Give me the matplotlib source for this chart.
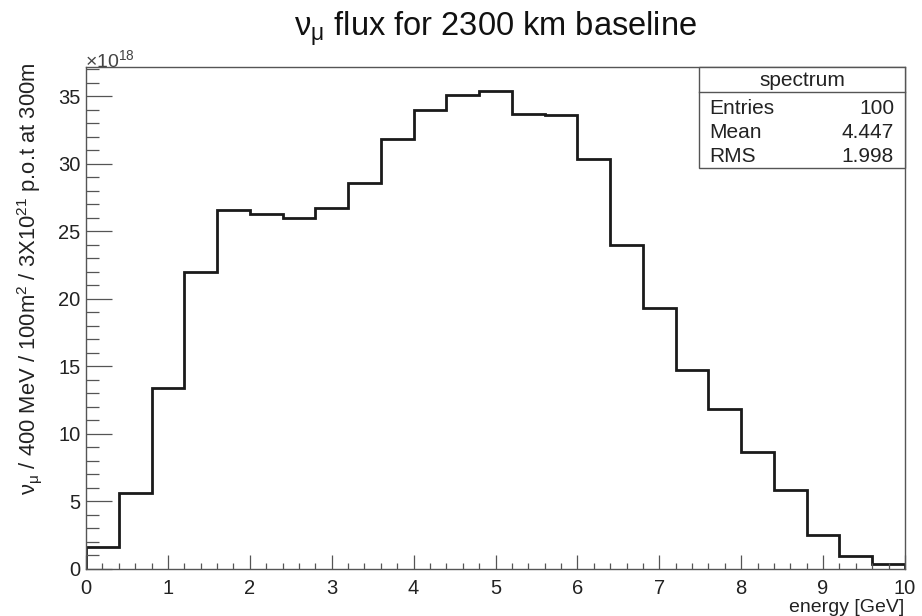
import matplotlib
matplotlib.use("Agg")
import matplotlib.pyplot as plt
import numpy as np
from matplotlib.ticker import MultipleLocator
from matplotlib.patches import Rectangle
from matplotlib.lines import Line2D

plt.rcParams['font.family'] = ['Liberation Sans', 'DejaVu Sans']
plt.rcParams['mathtext.fontset'] = 'custom'
plt.rcParams['mathtext.rm'] = 'Liberation Sans'
plt.rcParams['mathtext.it'] = 'Liberation Sans:italic'

# ---- data (flux in units of 1e18 per 400 MeV bin) ----
bin_edges = np.linspace(0.0, 10.0, 26)
flux = [1.65, 5.65, 13.4, 22.0, 26.6, 26.3, 26.0, 26.7, 28.6, 31.8,
        34.0, 35.1, 35.4, 33.7, 33.6, 30.35, 24.0, 19.35, 14.7, 11.85,
        8.65, 5.85, 2.5, 0.97, 0.38]
stat_names = ["Entries", "Mean", "RMS"]
stat_values = ["100", "4.447", "1.998"]
hist_name = "spectrum"

W, H = 922, 616
fig = plt.figure(figsize=(W / 100, H / 100), dpi=100)
fig.patch.set_facecolor('white')

def fx(px):
    return px / W

def fy(py):
    return 1 - py / H

ax_l, ax_r, ax_t, ax_b = 86, 905, 67, 569
ax = fig.add_axes([fx(ax_l), fy(ax_b), fx(ax_r) - fx(ax_l), fy(ax_t) - fy(ax_b)])

ax.stairs(flux, bin_edges, color='#1a1a1a', linewidth=2.0)

ax.set_xlim(0, 10)
ax.set_ylim(0, 37.15)

frame_col = '#555555'
txt_col = '#222222'
for s in ax.spines.values():
    s.set_color(frame_col)
    s.set_linewidth(1.0)

ax.xaxis.set_major_locator(MultipleLocator(1))
ax.xaxis.set_minor_locator(MultipleLocator(0.2))
ax.yaxis.set_major_locator(MultipleLocator(5))
ax.yaxis.set_minor_locator(MultipleLocator(1))
ax.tick_params(axis='x', which='major', direction='in', length=10, width=0.9,
               color=frame_col, labelsize=14.5, pad=7.5, labelcolor=txt_col)
ax.tick_params(axis='x', which='minor', direction='in', length=4.5, width=0.9,
               color=frame_col)
ax.tick_params(axis='y', which='major', direction='in', length=18.5, width=0.9,
               color=frame_col, labelsize=14.5, pad=4, labelcolor=txt_col)
ax.tick_params(axis='y', which='minor', direction='in', length=9.5, width=0.9,
               color=frame_col)

# axis labels, ROOT style (aligned to axis end)
fig.text(fx(ax_r - 1), fy(607), "energy [GeV]", ha='right', va='center',
         fontsize=14, color=txt_col)
fig.text(fx(30), fy(62), r"$\mathregular{\nu_{\mu}}$ / 400 MeV / 100m$^{\mathregular{2}}$ / 3X10$^{\mathregular{21}}$ p.o.t at 300m",
         rotation=90, ha='center', va='top', fontsize=15.8, color=txt_col)

# exponent label
fig.text(fx(85), fy(60), r"$\mathregular{\times10^{18}}$", ha='left', va='center',
         fontsize=14, color='#444444')

# title
fig.text(fx(495), fy(29), r"$\mathregular{\nu_{\mu}}$ flux for 2300 km baseline",
         ha='center', va='center', fontsize=23.5, color='#111111')

# stats box
bx_l, bx_r, bx_t, bx_b, bx_h = 699, 905, 67, 168, 92
fig.patches.append(Rectangle((fx(bx_l), fy(bx_b)), fx(bx_r) - fx(bx_l), fy(bx_t) - fy(bx_b),
                             transform=fig.transFigure, facecolor='white',
                             edgecolor=frame_col, linewidth=1.0, zorder=5))
fig.lines.append(Line2D([fx(bx_l), fx(bx_r)], [fy(bx_h), fy(bx_h)],
                        transform=fig.transFigure, color=frame_col, linewidth=1.0, zorder=6))
fig.text(fx((bx_l + bx_r) / 2), fy(80), hist_name, ha='center', va='center',
         fontsize=15, color=txt_col, zorder=7)
row_y = [108, 132, 156]
for name, val, yy in zip(stat_names, stat_values, row_y):
    fig.text(fx(709), fy(yy), name, ha='left', va='center', fontsize=15,
             color=txt_col, zorder=7)
    fig.text(fx(894), fy(yy), val, ha='right', va='center', fontsize=15,
             color=txt_col, zorder=7)

fig.savefig("out.png", dpi=100, facecolor='white')
